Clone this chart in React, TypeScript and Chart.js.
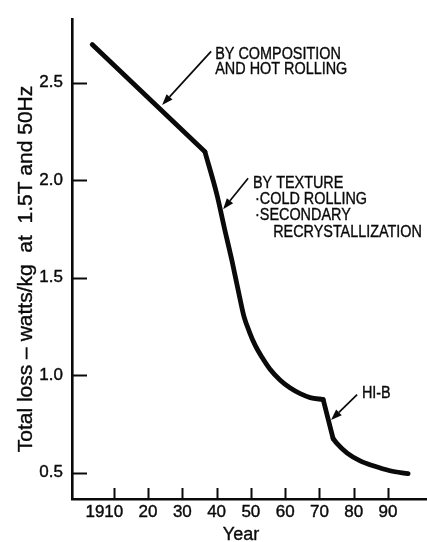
import React, { useEffect, useRef } from "react";
import { Chart, registerables } from "chart.js";

Chart.register(...registerables);

// Curve: total core loss of electrical steel sheet by year
const years = [
  1903.7, 1936.6, 1940.1, 1942.2, 1944.5, 1945.7, 1946.9, 1948.0, 1949.5,
  1951.2, 1953.3, 1955.6, 1958.5, 1961.4, 1964.4, 1967.3, 1971.1, 1974.0,
  1975.1, 1978.1, 1981.9, 1985.7, 1990.6, 1995.9,
];
const losses = [
  2.695, 2.145, 1.925, 1.76, 1.585, 1.485, 1.385, 1.3, 1.225,
  1.155, 1.09, 1.03, 0.975, 0.935, 0.905, 0.885, 0.875, 0.675,
  0.65, 0.6, 0.56, 0.535, 0.51, 0.495,
];
// indices of the sharp corners of the curve (segments between them are drawn separately)
const corners = [0, 1, 16, 17, 23];
// whether each segment is a smooth curve (true) or straight (false)
const segmentSmooth = [false, true, false, true];

const xTickValues = [1910, 1920, 1930, 1940, 1950, 1960, 1970, 1980, 1990];
const xTickLabels = ["1910    ", "20", "30", "40", "50", "60", "70", "80", "90"];
const yTickValues = [0.5, 1.0, 1.5, 2.0, 2.5];

const yTitle = "Total loss \u2013 watts/kg  at  1.5T and 50Hz";
const xTitle = "Year";

// Annotations (anchored in data coordinates)
const noteComposition = ["BY COMPOSITION", "AND HOT ROLLING"];
const noteTexture = ["BY TEXTURE", "\u00B7COLD ROLLING", "\u00B7SECONDARY", "RECRYSTALLIZATION"];
const noteHiB = ["HI-B"];

const FONT = '"Liberation Sans", Arial, Helvetica, sans-serif';
const INK = "#0a0a0a";

type Note = {
  lines: string[];
  x: number[];
  y: number[];
  tail: [number, number];
  tip: [number, number];
};

const notes: Note[] = [
  {
    lines: noteComposition,
    x: [1939.6, 1939.6],
    y: [2.62, 2.545],
    tail: [1938.4, 2.66],
    tip: [1924.1, 2.385],
  },
  {
    lines: noteTexture,
    x: [1950.6, 1951.2, 1951.2, 1956.5],
    y: [1.96, 1.875, 1.795, 1.71],
    tail: [1949.2, 2.01],
    tip: [1941.9, 1.85],
  },
  {
    lines: noteHiB,
    x: [1982.4],
    y: [0.885],
    tail: [1981.0, 0.9],
    tip: [1973.4, 0.77],
  },
];

function drawArrow(ctx: CanvasRenderingContext2D, x1: number, y1: number, x2: number, y2: number) {
  const ang = Math.atan2(y2 - y1, x2 - x1);
  const head = 11;
  const half = 4;
  const bx = x2 - head * Math.cos(ang);
  const by = y2 - head * Math.sin(ang);
  ctx.beginPath();
  ctx.moveTo(x1, y1);
  ctx.lineTo(bx, by);
  ctx.lineWidth = 1.7;
  ctx.strokeStyle = INK;
  ctx.stroke();
  ctx.beginPath();
  ctx.moveTo(x2, y2);
  ctx.lineTo(bx + half * Math.sin(ang), by - half * Math.cos(ang));
  ctx.lineTo(bx - half * Math.sin(ang), by + half * Math.cos(ang));
  ctx.closePath();
  ctx.fillStyle = INK;
  ctx.fill();
}

function heavyText(ctx: CanvasRenderingContext2D, t: string, x: number, y: number) {
  ctx.fillText(t, x, y);
  ctx.lineWidth = 0.35;
  ctx.strokeStyle = INK;
  ctx.strokeText(t, x, y);
}

const decorPlugin = {
  id: "decor",
  afterDraw(chart: any) {
    const ctx: CanvasRenderingContext2D = chart.ctx;
    const xs = chart.scales.x;
    const ys = chart.scales.y;
    const area = chart.chartArea;
    ctx.save();

    // inward tick marks
    ctx.strokeStyle = INK;
    ctx.lineWidth = 2;
    yTickValues.forEach((v) => {
      const py = Math.round(ys.getPixelForValue(v)) + 0.5;
      ctx.beginPath();
      ctx.moveTo(area.left, py);
      ctx.lineTo(area.left + 15, py);
      ctx.stroke();
    });
    xTickValues.forEach((v) => {
      const px = Math.round(xs.getPixelForValue(v)) + 0.5;
      ctx.beginPath();
      ctx.moveTo(px, area.bottom);
      ctx.lineTo(px, area.bottom - 11);
      ctx.stroke();
    });

    // annotations
    ctx.fillStyle = INK;
    ctx.font = `16px ${FONT}`;
    ctx.textAlign = "left";
    ctx.textBaseline = "alphabetic";
    notes.forEach((n) => {
      n.lines.forEach((t, i) => {
        ctx.save();
        ctx.translate(xs.getPixelForValue(n.x[i]), ys.getPixelForValue(n.y[i]));
        ctx.scale(0.9, 1);
        heavyText(ctx, t, 0, 0);
        ctx.restore();
      });
      drawArrow(
        ctx,
        xs.getPixelForValue(n.tail[0]),
        ys.getPixelForValue(n.tail[1]),
        xs.getPixelForValue(n.tip[0]),
        ys.getPixelForValue(n.tip[1])
      );
    });

    // axis titles
    ctx.fillStyle = INK;
    ctx.font = `21px ${FONT}`;
    ctx.textAlign = "center";
    ctx.textBaseline = "alphabetic";
    ctx.save();
    ctx.translate(32, 269);
    ctx.rotate(-Math.PI / 2);
    heavyText(ctx, yTitle, 0, 0);
    ctx.restore();

    ctx.font = `18px ${FONT}`;
    heavyText(ctx, xTitle, 241, 540);

    ctx.restore();
  },
};

export default function App() {
  const ref = useRef<HTMLCanvasElement | null>(null);

  useEffect(() => {
    const canvas = ref.current;
    if (!canvas) return;
    const datasets = segmentSmooth.map((smooth, s) => {
      const pts = [];
      for (let i = corners[s]; i <= corners[s + 1]; i++) pts.push({ x: years[i], y: losses[i] });
      return {
        data: pts,
        borderColor: INK,
        borderWidth: 4.8,
        pointRadius: 0,
        tension: smooth ? 0.4 : 0,
        cubicInterpolationMode: smooth ? "monotone" : "default",
        fill: false,
        borderJoinStyle: "round",
        borderCapStyle: "round",
      } as any;
    });
    const tickFont = { family: FONT, size: 17 };
    const chart = new Chart(canvas, {
      type: "line",
      data: { datasets },
      options: {
        animation: false,
        responsive: false,
        devicePixelRatio: 1,
        layout: { padding: { top: 7, right: 0, left: 0, bottom: 0 } },
        plugins: { legend: { display: false }, tooltip: { enabled: false } },
        scales: {
          x: {
            type: "linear",
            min: 1897.8,
            max: 2001.4,
            afterFit: (s: any) => {
              s.height = 43;
            },
            afterBuildTicks: (s: any) => {
              s.ticks = xTickValues.map((v) => ({ value: v }));
            },
            grid: { display: false, drawTicks: false },
            border: { display: true, color: INK, width: 2.6 },
            ticks: {
              autoSkip: false,
              maxRotation: 0,
              padding: 3,
              color: INK,
              textStrokeColor: INK,
              textStrokeWidth: 0.4,
              font: tickFont,
              callback: (v: any) => {
                const i = xTickValues.indexOf(Number(v));
                return i >= 0 ? xTickLabels[i] : "";
              },
            } as any,
          },
          y: {
            type: "linear",
            min: 0.365,
            max: 2.825,
            afterFit: (s: any) => {
              s.width = 72;
            },
            afterBuildTicks: (s: any) => {
              s.ticks = yTickValues.map((v) => ({ value: v }));
            },
            grid: { display: false, drawTicks: false },
            border: { display: true, color: INK, width: 2.6 },
            ticks: {
              padding: 9,
              color: INK,
              textStrokeColor: INK,
              textStrokeWidth: 0.4,
              font: tickFont,
              callback: (v: any) => Number(v).toFixed(1),
            } as any,
          },
        },
      },
      plugins: [decorPlugin],
    });
    return () => chart.destroy();
  }, []);

  return (
    <div style={{ position: "absolute", left: 0, top: 0, width: 427, height: 542, background: "#fff" }}>
      <canvas ref={ref} width={427} height={542} style={{ display: "block", width: 427, height: 542 }} />
    </div>
  );
}
